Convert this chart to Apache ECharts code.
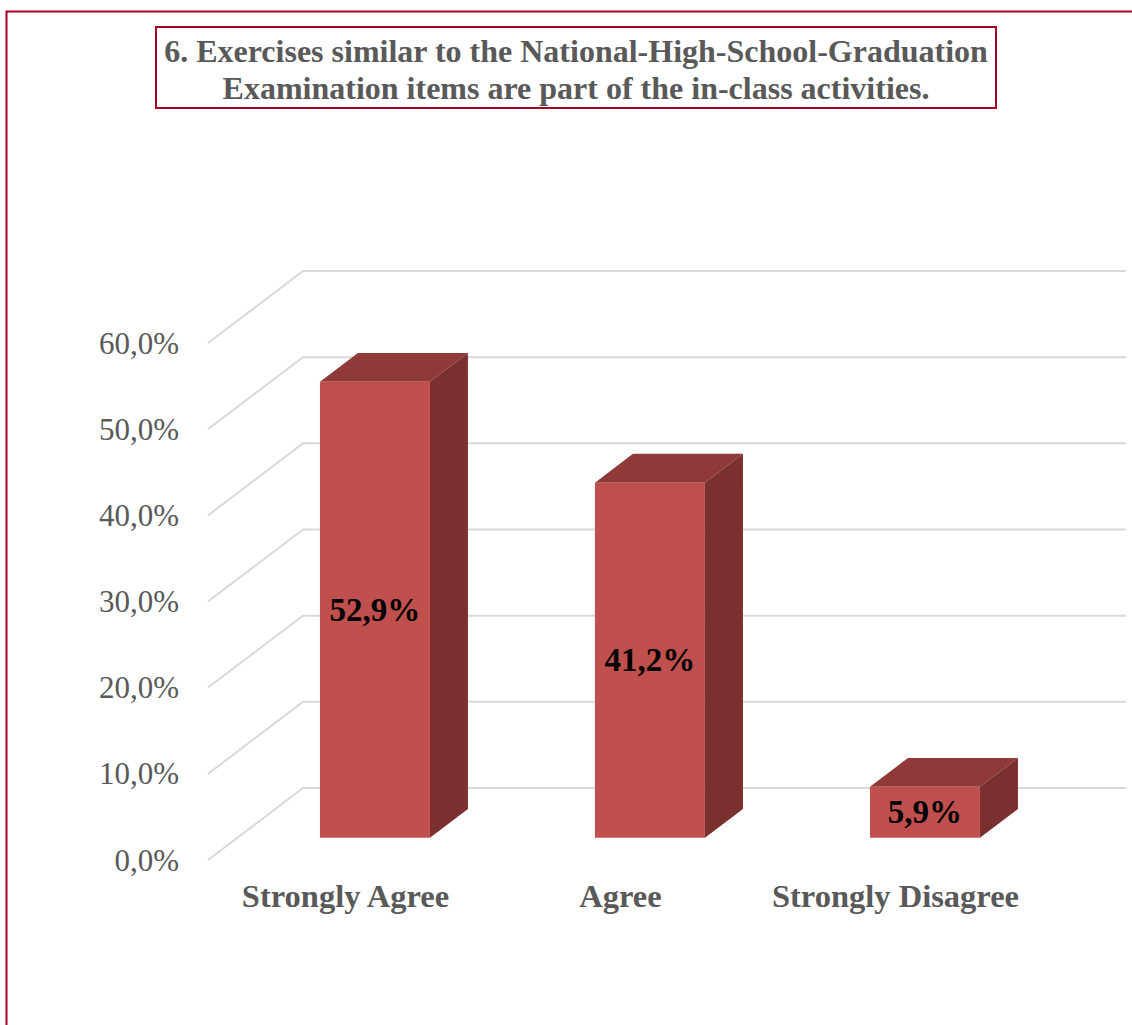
<!DOCTYPE html>
<html>
<head>
<meta charset="utf-8">
<title>Exercises similar to the National-High-School-Graduation Examination items</title>
<script src="https://cdn.jsdelivr.net/npm/echarts@6/dist/echarts.min.js"></script>
<style>
  html, body { margin: 0; padding: 0; background: #ffffff; }
  #chart { width: 1132px; height: 1025px; }
</style>
</head>
<body>
<div id="chart"></div>
<script>
// Survey responses (share of respondents, %)
const categories = ['Strongly Agree', 'Agree', 'Strongly Disagree'];
const shares = [52.9, 41.2, 5.9];
// Value-axis ticks (%)
const ticks = [0, 10, 20, 30, 40, 50, 60];
const titleLines = [
  '6. Exercises similar to the National-High-School-Graduation',
  'Examination items are part of the in-class activities.'
];

// Oblique projection of the depth axis, in pixels for the full floor depth
const DEPTH_DX = 95;
const DEPTH_DY = -72;
// Bars sit between these fractions of the floor depth
const BAR_D0 = 0.31;
const BAR_D1 = 0.71;

const SERIF = "'Liberation Serif', 'Times New Roman', serif";
const fmtPct = v => v.toFixed(1).replace('.', ',') + '%';

const chart = echarts.init(document.getElementById('chart'), null, { renderer: 'svg' });

chart.setOption({
  backgroundColor: '#ffffff',
  animation: false,
  grid: { left: 208, right: 99, top: 343, bottom: 165, containLabel: false },
  xAxis: {
    type: 'category',
    data: categories,
    axisLine: { show: false },
    axisTick: { show: false },
    splitLine: { show: false },
    axisLabel: {
      interval: 0,
      margin: 19,
      color: '#595959',
      fontFamily: SERIF,
      fontWeight: 'bold',
      fontSize: 32.5
    }
  },
  yAxis: {
    type: 'value',
    min: 0,
    max: 60,
    interval: 10,
    axisLine: { show: false },
    axisTick: { show: false },
    splitLine: { show: false },
    axisLabel: {
      margin: 29,
      color: '#595959',
      fontFamily: SERIF,
      fontSize: 31,
      formatter: v => fmtPct(v)
    }
  },
  graphic: [
    {
      type: 'rect',
      shape: { x: 6.5, y: 11.5, width: 1300, height: 1200 },
      style: { fill: 'none', stroke: '#A50021', lineWidth: 2 },
      silent: true
    },
    {
      type: 'rect',
      shape: { x: 156, y: 27, width: 840, height: 81 },
      style: { fill: '#ffffff', stroke: '#A50021', lineWidth: 2 },
      silent: true
    },
    {
      type: 'text',
      x: 576, y: 51,
      style: {
        text: titleLines[0], align: 'center', verticalAlign: 'middle',
        font: 'bold 32px ' + SERIF, fill: '#595959'
      }
    },
    {
      type: 'text',
      x: 576, y: 88,
      style: {
        text: titleLines[1], align: 'center', verticalAlign: 'middle',
        font: 'bold 32px ' + SERIF, fill: '#595959'
      }
    }
  ],
  series: [
    {
      // Side wall and back wall gridlines
      type: 'custom',
      z: 1,
      silent: true,
      data: ticks.map(t => [0, t]),
      renderItem: function (params, api) {
        const cs = params.coordSys;
        const y = api.coord([0, api.value(1)])[1];
        const left = cs.x;
        const right = cs.x + cs.width;
        return {
          type: 'polyline',
          shape: {
            points: [
              [left, y],
              [left + DEPTH_DX, y + DEPTH_DY],
              [right + DEPTH_DX - 2, y + DEPTH_DY]
            ]
          },
          style: { fill: 'none', stroke: '#D9D9D9', lineWidth: 2 }
        };
      }
    },
    {
      // 3D bars
      type: 'custom',
      z: 2,
      data: shares.map((v, i) => [i, v]),
      renderItem: function (params, api) {
        const cat = api.value(0);
        const val = api.value(1);
        const base = api.coord([cat, 0]);
        const top = api.coord([cat, val]);
        const band = api.size([1, 0])[0];
        const barW = band * 0.4;
        const ox = BAR_D0 * DEPTH_DX;
        const oy = BAR_D0 * DEPTH_DY;
        const ddx = (BAR_D1 - BAR_D0) * DEPTH_DX;
        const ddy = (BAR_D1 - BAR_D0) * DEPTH_DY;
        const xl = base[0] - barW / 2 + ox;
        const xr = xl + barW;
        const yb = base[1] + oy;
        const yt = top[1] + oy;
        return {
          type: 'group',
          children: [
            {
              type: 'polygon',
              shape: { points: [[xl, yt], [xr, yt], [xr + ddx, yt + ddy], [xl + ddx, yt + ddy]] },
              style: { fill: '#8F3A38' }
            },
            {
              type: 'polygon',
              shape: { points: [[xr, yt], [xr, yb], [xr + ddx, yb + ddy], [xr + ddx, yt + ddy]] },
              style: { fill: '#7B3030' }
            },
            {
              type: 'rect',
              shape: { x: xl, y: yt, width: barW, height: yb - yt },
              style: { fill: '#C0504D' }
            },
            {
              type: 'text',
              x: (xl + xr) / 2,
              y: (yt + yb) / 2,
              style: {
                text: fmtPct(val), align: 'center', verticalAlign: 'middle',
                font: 'bold 33px ' + SERIF, fill: '#000000'
              }
            }
          ]
        };
      }
    }
  ]
});
</script>
</body>
</html>
